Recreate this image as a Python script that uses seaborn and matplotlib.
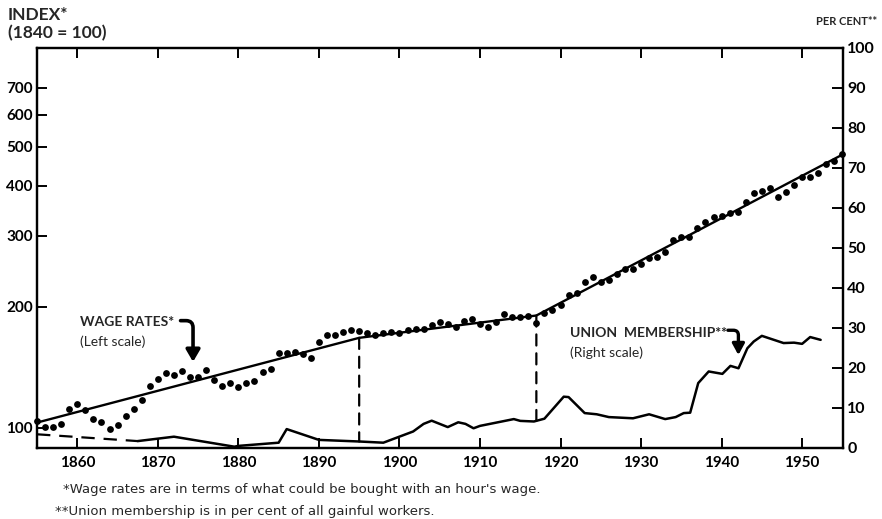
import numpy as np
import pandas as pd
import matplotlib
matplotlib.use("Agg")
import matplotlib.pyplot as plt
import seaborn as sns
from matplotlib.patches import ConnectionPatch
from matplotlib.ticker import NullLocator

# wage rates index (1840 = 100), one dot per year
wage_years = list(range(1855, 1956))
wage_index = [
    103.7, 100.2, 100.6, 102.1, 111.3, 114.7, 110.7, 104.9, 103.5, 98.9,   # 1855-64
    101.2, 106.9, 110.9, 116.9, 126.7, 132.4, 136.3, 135.5, 138.6, 133.7,  # 1865-74
    133.7, 139.4, 131.4, 127.0, 128.9, 126.0, 128.9, 130.3, 137.8, 139.6,  # 1875-84
    153.7, 153.0, 154.3, 152.8, 148.7, 163.6, 169.7, 169.7, 173.3, 175.0,  # 1885-94
    173.6, 171.7, 169.7, 171.7, 173.3, 171.7, 175.3, 175.6, 176.3, 180.1,  # 1895-1904
    183.2, 181.1, 178.4, 184.6, 186.4, 180.7, 178.4, 183.5, 191.8, 188.1,  # 1905-14
    188.1, 189.2, 181.7, 192.5, 195.8, 201.5, 213.4, 216.7, 229.9, 237.5,  # 1915-24
    229.9, 232.5, 241.6, 248.2, 248.6, 254.9, 264.4, 265.9, 273.6, 293.6,  # 1925-34
    297.5, 298.2, 313.2, 325.4, 333.6, 336.3, 342.1, 344.6, 364.2, 383.5,  # 1935-44
    388.6, 393.8, 375.5, 384.8, 400.6, 419.5, 421.2, 429.2, 451.9, 461.5,  # 1945-54
    478.5,                                                                 # 1955
]

# trend drawn through the dots (three straight pieces on the log scale)
trend_years = [1855, 1895, 1917, 1955]
trend_index = [102.9, 167.2, 190.0, 477.6]

# union membership, per cent of gainful workers
union_est_years = [1855, 1867.5]
union_est_pct = [3.4, 1.7]
union_years = [1867.5, 1872, 1879.5, 1880, 1885, 1886, 1890, 1895, 1898, 1901.7,
               1903, 1904, 1905, 1906, 1907.3, 1908.2, 1909.2, 1910, 1914.2, 1915,
               1916.7, 1918, 1920.4, 1921, 1923, 1924.5, 1926, 1929, 1931, 1933,
               1934.3, 1935.3, 1936.1, 1937.1, 1938.4, 1940.1, 1941.1, 1942.1, 1943.2, 1944,
               1945, 1946.5, 1947.7, 1949, 1950, 1951, 1952.3]
union_pct = [1.7, 2.8, 0.3, 0.5, 1.3, 4.7, 2.0, 1.6, 1.3, 4.1,
             6.0, 6.8, 6.0, 5.2, 6.4, 6.0, 4.9, 5.5, 7.2, 6.75,
             6.6, 7.3, 12.8, 12.7, 8.7, 8.4, 7.7, 7.4, 8.4, 7.2,
             7.7, 8.7, 8.8, 16.2, 19.1, 18.5, 20.5, 19.9, 24.9, 26.6,
             28.0, 27.0, 26.2, 26.3, 26.0, 27.7, 27.0]

year_ticks = list(range(1860, 1951, 10))
index_ticks = [100, 200, 300, 400, 500, 600, 700]
pct_ticks = list(range(0, 101, 10))

sns.set_theme(style="ticks")
plt.rcParams["font.family"] = ["Lato", "DejaVu Sans"]

fig = plt.figure(figsize=(8.82, 5.19), dpi=100)
ax = fig.add_axes([0.042, 0.137, 0.914, 0.771])
ax.set_yscale("log")
ax2 = ax.twinx()

wages = pd.DataFrame({"year": wage_years, "index": wage_index})
trend = pd.DataFrame({"year": trend_years, "index": trend_index})
union = pd.DataFrame({"year": union_years, "pct": union_pct})
union_est = pd.DataFrame({"year": union_est_years, "pct": union_est_pct})

sns.scatterplot(data=wages, x="year", y="index", ax=ax, color="black",
                s=24, linewidth=0, zorder=3, clip_on=False)
sns.lineplot(data=trend, x="year", y="index", ax=ax, color="black",
             lw=1.7, estimator=None, sort=False)
sns.lineplot(data=union, x="year", y="pct", ax=ax2, color="black",
             lw=1.8, estimator=None, sort=False)
sns.lineplot(data=union_est, x="year", y="pct", ax=ax2, color="black",
             lw=1.6, estimator=None, sort=False, linestyle=(0, (6, 4)))

ax.set_xlim(1855, 1955.1)
ax.set_ylim(89, 881)
ax2.set_ylim(0, 100)

ax.set_xticks(year_ticks)
ax.set_xticklabels([str(y) for y in year_ticks], fontweight="bold", fontsize=11)
ax.set_yticks(index_ticks)
ax.set_yticklabels([str(v) for v in index_ticks], fontweight="bold", fontsize=11)
ax.yaxis.set_minor_locator(NullLocator())
ax.tick_params(axis="x", direction="in", top=True, length=7, width=1.4, pad=6, colors="black")
ax.tick_params(axis="y", direction="in", length=7, width=1.4, pad=3, colors="black")
ax2.set_yticks(pct_ticks)
ax2.set_yticklabels([str(v) for v in pct_ticks], fontweight="bold", fontsize=11.5)
ax2.tick_params(axis="y", direction="in", length=8, width=1.4, pad=3, colors="black")
ax.set_xlabel("")
ax.set_ylabel("")
ax2.set_ylabel("")
for a in (ax, ax2):
    for sp in a.spines.values():
        sp.set_color("black")
        sp.set_linewidth(1.6)

# dashed drop lines at the trend breaks
for yr, idx in [(trend_years[1], trend_index[1]), (trend_years[2], trend_index[2])]:
    low = np.interp(yr, union_years, union_pct)
    con = ConnectionPatch(xyA=(yr, idx), coordsA=ax.transData,
                          xyB=(yr, low), coordsB=ax2.transData,
                          color="black", lw=1.6, linestyle=(0, (5, 3.5)))
    fig.add_artist(con)

# labels with hooked arrows
ax.text(0.053, 0.315, "WAGE RATES*", transform=ax.transAxes, fontsize=10,
        fontweight="bold", va="center")
ax.text(0.053, 0.265, "(Left scale)", transform=ax.transAxes, fontsize=10, va="center")
ax.annotate("", xy=(0.1935, 0.215), xycoords="axes fraction",
            xytext=(0.178, 0.318), textcoords="axes fraction",
            arrowprops=dict(arrowstyle="-|>,head_length=0.6,head_width=0.35",
                            connectionstyle="angle,angleA=0,angleB=90,rad=7",
                            lw=2.6, color="black", shrinkA=0, shrinkB=0))

ax.text(0.661, 0.2875, "UNION  MEMBERSHIP**", transform=ax.transAxes, fontsize=10,
        fontweight="bold", va="center")
ax.text(0.661, 0.2375, "(Right scale)", transform=ax.transAxes, fontsize=10, va="center")
ax.annotate("", xy=(0.870, 0.232), xycoords="axes fraction",
            xytext=(0.857, 0.294), textcoords="axes fraction",
            arrowprops=dict(arrowstyle="-|>,head_length=0.55,head_width=0.3",
                            connectionstyle="angle,angleA=0,angleB=90,rad=5",
                            lw=2.4, color="black", shrinkA=0, shrinkB=0))

fig.text(0.009, 0.971, "INDEX*", fontsize=12.5, fontweight="bold", va="center")
fig.text(0.009, 0.936, "(1840 = 100)", fontsize=12.5, fontweight="bold", va="center")
fig.text(0.994, 0.958, "PER CENT**", fontsize=8, fontweight="bold", va="center", ha="right")

fig.text(0.071, 0.056, "*Wage rates are in terms of what could be bought with an hour's wage.",
         fontsize=9.5, va="center", family="DejaVu Sans")
fig.text(0.062, 0.0154, "**Union membership is in per cent of all gainful workers.",
         fontsize=9.5, va="center", family="DejaVu Sans")

fig.savefig("out.png", dpi=100)
